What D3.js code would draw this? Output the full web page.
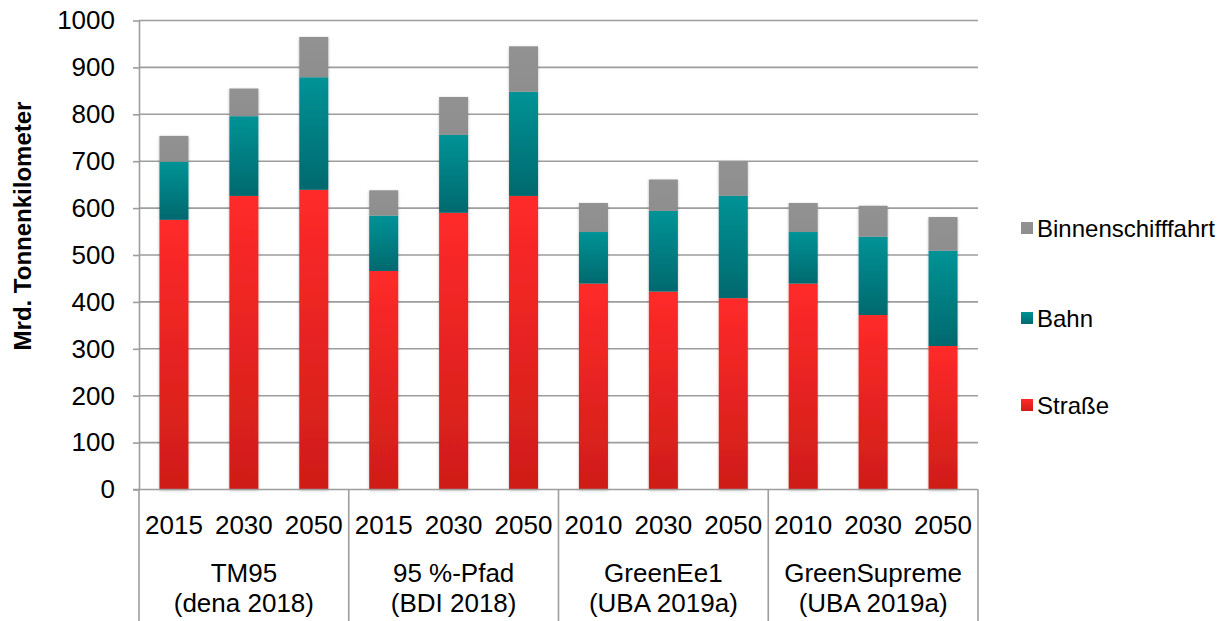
<!DOCTYPE html>
<html>
<head>
<meta charset="utf-8">
<script src="https://cdn.jsdelivr.net/npm/d3@7"></script>
<style>
  html, body { margin: 0; padding: 0; background: #fff; }
  svg { display: block; font-family: "Liberation Sans", Arial, sans-serif; }
</style>
</head>
<body>
<svg id="chart" width="1220" height="621"></svg>
<script>
// ---- data ----
const groups = ["TM95|(dena 2018)", "95 %-Pfad|(BDI 2018)", "GreenEe1|(UBA 2019a)", "GreenSupreme|(UBA 2019a)"];
const years = [["2015", "2030", "2050"], ["2015", "2030", "2050"], ["2010", "2030", "2050"], ["2010", "2030", "2050"]];
const strasse = [575, 626, 639, 466, 590, 626, 439, 422, 408, 439, 372, 306];
const bahn = [124, 170, 240, 118, 166, 222, 110, 172, 218, 110, 167, 203];
const binnen = [55, 59, 86, 54, 81, 97, 62, 67, 74, 62, 66, 72];
const seriesNames = ["Straße", "Bahn", "Binnenschifffahrt"];
const yTicks = [0, 100, 200, 300, 400, 500, 600, 700, 800, 900, 1000];
const yTitle = "Mrd. Tonnenkilometer";

(function () {
// ---- build ----
const cats = [];
groups.forEach((g, gi) => years[gi].forEach((y, yi) => cats.push(gi + "|" + y + "|" + yi)));
const rows = cats.map((c, i) => ({ key: c, "Straße": strasse[i], "Bahn": bahn[i], "Binnenschifffahrt": binnen[i] }));
const stack = d3.stack().keys(seriesNames)(rows);

const svg = d3.select("#chart");
const pL = 139, pR = 978, pT = 20.5, pB = 489.5;

const x = d3.scaleBand().domain(cats).range([pL, pR]).paddingInner(0.585).paddingOuter(0.2925);
const y = d3.scaleLinear().domain([0, 1000]).range([pB, pT]);

const defs = svg.append("defs");
function grad(id, c1, c2) {
  const g = defs.append("linearGradient").attr("id", id).attr("x1", 0).attr("y1", 0).attr("x2", 0).attr("y2", 1);
  g.append("stop").attr("offset", "0%").attr("stop-color", c1);
  g.append("stop").attr("offset", "100%").attr("stop-color", c2);
}
grad("gRed", "#ff2a2a", "#cf1d18");
grad("gTeal", "#009396", "#00696e");
grad("gGray", "#929292", "#8e8e8e");
const f = defs.append("filter").attr("id", "shadow").attr("x", "-30%").attr("y", "-5%").attr("width", "160%").attr("height", "110%");
f.append("feGaussianBlur").attr("in", "SourceAlpha").attr("stdDeviation", 1.6).attr("result", "b");
f.append("feOffset").attr("in", "b").attr("dx", 0).attr("dy", 0.5).attr("result", "o");
f.append("feComponentTransfer").attr("in", "o").attr("result", "s").append("feFuncA").attr("type", "linear").attr("slope", 0.25);
const m = f.append("feMerge");
m.append("feMergeNode").attr("in", "s");
m.append("feMergeNode").attr("in", "SourceGraphic");

const fills = { "Straße": "url(#gRed)", "Bahn": "url(#gTeal)", "Binnenschifffahrt": "url(#gGray)" };
const gridColor = "#9d9d9d";

// gridlines
svg.append("g").selectAll("line").data(yTicks.filter(t => t > 0)).join("line")
  .attr("x1", pL).attr("x2", pR)
  .attr("y1", d => y(d)).attr("y2", d => y(d))
  .attr("stroke", gridColor).attr("stroke-width", 1.6);

// y axis
const yAxis = svg.append("g").attr("transform", `translate(${pL},0)`)
  .call(d3.axisLeft(y).tickValues(yTicks).tickFormat(d3.format("d")).tickSize(6).tickPadding(18).tickSizeOuter(0));
yAxis.select(".domain").attr("stroke", gridColor).attr("stroke-width", 1.6);
yAxis.selectAll(".tick line").attr("stroke", gridColor).attr("stroke-width", 1.6);
yAxis.selectAll(".tick text").attr("font-size", 26).attr("fill", "#000")
  .attr("font-family", "Liberation Sans, Arial, sans-serif");

// bars
const layer = svg.append("g").attr("filter", "url(#shadow)");
stack.forEach(s => {
  layer.append("g").selectAll("rect").data(s).join("rect")
    .attr("x", d => x(d.data.key))
    .attr("width", x.bandwidth())
    .attr("y", d => y(d[1]))
    .attr("height", d => y(d[0]) - y(d[1]))
    .attr("fill", fills[s.key]);
});

// bottom axis line
svg.append("line").attr("x1", pL - 6).attr("x2", pR).attr("y1", pB).attr("y2", pB)
  .attr("stroke", gridColor).attr("stroke-width", 1.6);

// group separators
const step = x.step();
const bounds = [0, 3, 6, 9, 12].map(i => pL + i * step);
svg.append("g").selectAll("line").data(bounds).join("line")
  .attr("x1", d => d).attr("x2", d => d).attr("y1", pB).attr("y2", 621)
  .attr("stroke", gridColor).attr("stroke-width", 1.6);

// year labels
svg.append("g").selectAll("text").data(cats).join("text")
  .attr("x", d => x(d) + x.bandwidth() / 2)
  .attr("y", 534)
  .attr("text-anchor", "middle").attr("font-size", 26).attr("fill", "#000")
  .text(d => d.split("|")[1]);

// group labels
groups.forEach((g, gi) => {
  const cx = (bounds[gi] + bounds[gi + 1]) / 2;
  const parts = g.split("|");
  svg.append("text").attr("x", cx).attr("y", 582).attr("text-anchor", "middle")
    .attr("font-size", 26).attr("fill", "#000").text(parts[0]);
  svg.append("text").attr("x", cx).attr("y", 612).attr("text-anchor", "middle")
    .attr("font-size", 26).attr("fill", "#000").text(parts[1]);
});

// y title
svg.append("text").attr("transform", "translate(31,226) rotate(-90)")
  .attr("text-anchor", "middle").attr("font-size", 24).attr("font-weight", "bold").attr("fill", "#000")
  .text(yTitle);

// legend
const legendItems = ["Binnenschifffahrt", "Bahn", "Straße"];
const legendY = [228, 318, 405];
const lg = svg.append("g");
legendItems.forEach((k, i) => {
  lg.append("rect").attr("x", 1021).attr("y", legendY[i] - 6).attr("width", 12).attr("height", 12).attr("fill", fills[k]);
  lg.append("text").attr("x", 1037).attr("y", legendY[i] + 8.5).attr("font-size", 24).attr("fill", "#000").text(k);
});
})();
</script>
</body>
</html>
